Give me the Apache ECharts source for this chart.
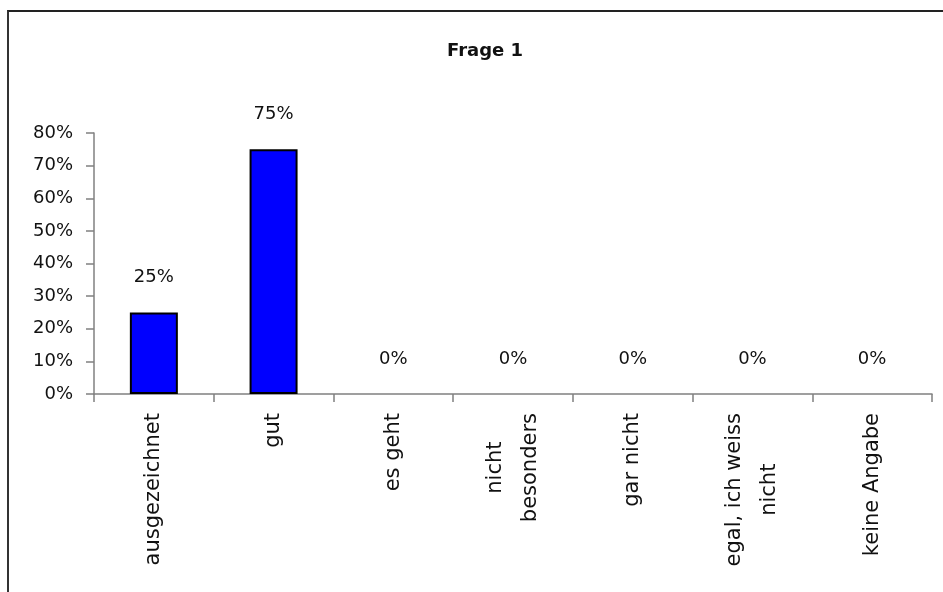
<!DOCTYPE html>
<html>
<head>
<meta charset="utf-8">
<script src="https://cdn.jsdelivr.net/npm/echarts@6/dist/echarts.min.js"></script>
<style>
  html, body { margin: 0; padding: 0; background: #fff; }
  #wrap { position: relative; width: 943px; height: 592px; overflow: hidden; }
  #frame { position: absolute; left: 7px; top: 10px; width: 960px; height: 620px;
           border-left: 2px solid #333; border-top: 2px solid #222; box-sizing: border-box; }
  #chart { position: absolute; left: 0; top: 0; width: 943px; height: 592px; }
</style>
</head>
<body>
<div id="wrap">
  <div id="frame"></div>
  <div id="chart"></div>
</div>
<script>
const titleText = 'Frage 1';
const categories = ['ausgezeichnet', 'gut', 'es geht', 'nicht\nbesonders', 'gar nicht', 'egal, ich weiss\nnicht', 'keine Angabe'];
const values = [0.25, 0.75, 0, 0, 0, 0, 0];
const yMin = 0, yMax = 0.8, yInterval = 0.1;

const FONT = 'DejaVu Sans';
const barData = values.map(v => ({
  value: v,
  itemStyle: v === 0 ? { borderWidth: 0 } : {}
}));

const chart = echarts.init(document.getElementById('chart'), null, { renderer: 'canvas' });
chart.setOption({
  backgroundColor: 'transparent',
  animation: false,
  title: {
    text: titleText,
    left: 442,
    top: 37,
    textStyle: { fontFamily: FONT, fontSize: 18, fontWeight: 'bold', color: '#111' }
  },
  grid: { left: 94, right: 11, top: 133, bottom: 198, containLabel: false },
  xAxis: {
    type: 'category',
    data: categories,
    boundaryGap: true,
    axisLine: { lineStyle: { color: '#808080', width: 1.5 } },
    axisTick: { show: true, length: 8, lineStyle: { color: '#808080', width: 1.5 } },
    axisLabel: {
      interval: 0,
      rotate: 90,
      margin: 19,
      formatter: function (v) { return v.split('\n').map(s => '{c|' + s + '}').join('\n'); },
      rich: { c: { align: 'center', fontFamily: FONT, fontSize: 21, lineHeight: 35, color: '#111' } }
    },
    splitLine: { show: false }
  },
  yAxis: {
    type: 'value',
    min: yMin, max: yMax, interval: yInterval,
    axisLine: { show: true, lineStyle: { color: '#808080', width: 1.5 } },
    axisTick: { show: true, length: 8, lineStyle: { color: '#808080', width: 1.5 } },
    axisLabel: {
      margin: 21,
      fontFamily: FONT, fontSize: 18, color: '#111',
      formatter: function (v) { return Math.round(v * 100) + '%'; }
    },
    splitLine: { show: false }
  },
  series: [{
    type: 'bar',
    data: barData,
    barWidth: 48,
    itemStyle: { color: '#0000FF', borderColor: '#000', borderWidth: 2 },
    label: {
      show: true,
      position: 'top',
      distance: 26,
      fontFamily: FONT, fontSize: 18, color: '#111',
      formatter: function (p) { return Math.round(p.value * 100) + '%'; }
    }
  }]
});
</script>
</body>
</html>
